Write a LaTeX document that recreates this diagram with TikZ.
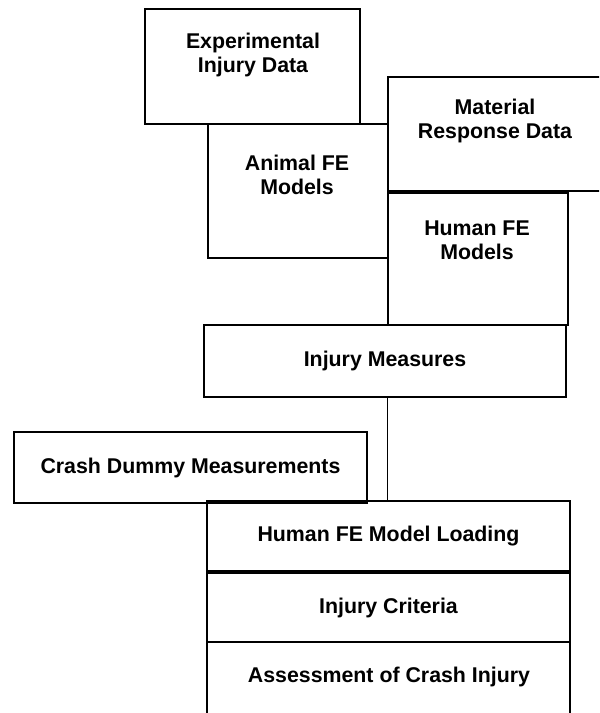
\documentclass[tikz,border=0pt]{standalone}
\usepackage{fontspec}
\setmainfont{Liberation Sans}
\usetikzlibrary{fit}
\begin{document}
\begin{tikzpicture}[x=0.75pt,y=-0.75pt,
	box/.style={draw,line width=1.1pt,inner sep=0pt},
	txt/.style={font=\bfseries\fontsize{16}{18}\selectfont,align=center,inner sep=0pt}]
	\useasboundingbox (0,0) rectangle (599,713);
	\clip (0,0) rectangle (599,713);
	%khung
	\node[box,fit={(145,9)(360,124)}] (exp) {};
	\node[box,fit={(208,124)(388,258)}] (ani) {};
	\node[box,fit={(388,77)(604,191)}] (mat) {};
	\node[box,fit={(388,193)(568,325)}] (hfm) {};
	\node[box,fit={(204,325)(566,397)}] (im) {};
	\node[box,fit={(14,432)(367,503)}] (crash) {};
	\node[box,fit={(207,501)(570,571)}] (load) {};
	\node[box,fit={(207,573)(570,642)}] (crit) {};
	\node[box,fit={(207,642)(570,718)}] (assess) {};
	%chu
	\node[txt] (exptxt) at (253,55) {Experimental\\Injury Data};
	\node[txt] (anitxt) at (297,175) {Animal FE\\Models};
	\node[txt] (mattxt) at (495,121) {Material\\Response Data};
	\node[txt] (hfmtxt) at (477,240) {Human FE\\Models};
	\node[txt] (imtxt) at (im.center) {Injury Measures};
	\node[txt] (crashtxt) at (crash.center) {Crash Dummy Measurements};
	\node[txt] (loadtxt) at (load.center) {Human FE Model Loading};
	\node[txt] (crittxt) at (crit.center) {Injury Criteria};
	\node[txt] (assesstxt) at (389,677) {Assessment of Crash Injury};
	\draw[line width=1.1pt] (im.south -| hfm.west) -- (load.north -| hfm.west);
\end{tikzpicture}
\end{document}
